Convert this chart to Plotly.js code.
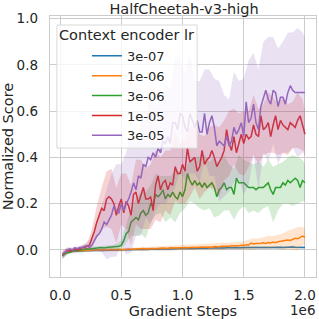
<!DOCTYPE html>
<html><head><meta charset="utf-8">
<script src="https://cdn.plot.ly/plotly-3.0.1.min.js"></script>
<style>html,body{margin:0;padding:0;background:#fff}#chart{width:319px;height:319px}</style>
</head><body><div id="chart"></div>
<script>
// Gradient steps (in units of 1e6)
const steps = [0.02,0.04,0.06,0.08,0.10,0.12,0.14,0.16,0.18,0.20,
0.22,0.24,0.26,0.28,0.30,0.32,0.34,0.36,0.38,0.40,
0.42,0.44,0.46,0.48,0.50,0.52,0.54,0.56,0.58,0.60,
0.62,0.64,0.66,0.68,0.70,0.72,0.74,0.76,0.78,0.80,
0.82,0.84,0.86,0.88,0.90,0.92,0.94,0.96,0.98,1.00,
1.02,1.04,1.06,1.08,1.10,1.12,1.14,1.16,1.18,1.20,
1.22,1.24,1.26,1.28,1.30,1.32,1.34,1.36,1.38,1.40,
1.42,1.44,1.46,1.48,1.50,1.52,1.54,1.56,1.58,1.60,
1.62,1.64,1.66,1.68,1.70,1.72,1.74,1.76,1.78,1.80,
1.82,1.84,1.86,1.88,1.90,1.92,1.94,1.96,1.98,2.00];

const legendTitle = "Context encoder lr";
const labels = ["3e-07","1e-06","3e-06","1e-05","3e-05"];
const colors = ["#1f77b4","#ff7f0e","#2ca02c","#d62728","#9467bd"];
const fills = ["rgba(31,119,180,0.2)","rgba(255,127,14,0.2)","rgba(44,160,44,0.2)","rgba(214,39,40,0.2)","rgba(148,103,189,0.2)"];

const score_3e07 = [-0.025,-0.015,-0.01,-0.008,-0.006,-0.005,-0.006,-0.004,-0.005,-0.004,
-0.003,-0.004,-0.002,-0.003,-0.002,-0.001,-0.002,-0.001,0.000,-0.002,
-0.001,0.000,-0.001,0.001,0.000,0.001,0.000,0.002,0.001,0.002,
0.001,0.002,0.003,0.002,0.003,0.002,0.004,0.003,0.004,0.003,
0.004,0.005,0.004,0.005,0.004,0.006,0.005,0.006,0.005,0.006,
0.006,0.007,0.006,0.007,0.006,0.008,0.007,0.007,0.008,0.007,
0.008,0.007,0.008,0.009,0.008,0.009,0.008,0.009,0.010,0.009,
0.009,0.010,0.009,0.010,0.011,0.010,0.011,0.010,0.011,0.010,
0.011,0.010,0.011,0.012,0.011,0.010,0.011,0.012,0.011,0.012,
0.011,0.012,0.011,0.012,0.013,0.012,0.011,0.012,0.012,0.011];

const score_1e06 = [-0.025,-0.012,-0.01,-0.008,-0.005,-0.006,-0.003,-0.004,-0.002,-0.003,
-0.001,-0.002,0.000,-0.001,0.001,0.000,0.001,-0.001,0.002,0.001,
0.002,0.001,0.003,0.002,0.001,0.003,0.002,0.004,0.003,0.004,
0.003,0.005,0.004,0.006,0.004,0.005,0.007,0.006,0.005,0.007,
0.006,0.008,0.007,0.006,0.009,0.008,0.010,0.008,0.009,0.011,
0.010,0.009,0.011,0.012,0.010,0.012,0.011,0.013,0.012,0.014,
0.013,0.012,0.015,0.014,0.013,0.016,0.015,0.017,0.016,0.018,
0.017,0.019,0.018,0.020,0.019,0.022,0.021,0.030,0.026,0.028,
0.027,0.029,0.031,0.028,0.032,0.030,0.034,0.031,0.035,0.037,
0.036,0.040,0.043,0.041,0.046,0.050,0.048,0.055,0.060,0.055];

const score_3e06 = [-0.025,-0.015,-0.012,-0.008,-0.006,-0.004,-0.002,0.000,0.002,0.003,
0.005,0.004,0.006,0.008,0.007,0.009,0.010,0.008,0.011,0.012,
0.010,0.013,0.015,0.016,0.020,0.040,0.070,0.080,0.120,0.130,
0.140,0.130,0.160,0.170,0.150,0.160,0.200,0.190,0.240,0.230,
0.240,0.260,0.220,0.240,0.230,0.250,0.230,0.220,0.250,0.230,
0.260,0.330,0.300,0.280,0.300,0.280,0.290,0.270,0.290,0.270,
0.280,0.290,0.270,0.230,0.260,0.270,0.290,0.260,0.270,0.270,
0.240,0.310,0.290,0.290,0.290,0.280,0.270,0.270,0.270,0.260,
0.270,0.270,0.270,0.280,0.290,0.260,0.240,0.270,0.270,0.270,
0.290,0.280,0.300,0.290,0.300,0.310,0.300,0.270,0.300,0.290];

const score_1e05 = [-0.020,-0.010,0.000,-0.005,0.000,0.005,0.000,0.005,0.010,0.010,
0.015,0.020,0.050,0.080,0.120,0.150,0.180,0.170,0.220,0.230,
0.220,0.200,0.150,0.190,0.220,0.160,0.210,0.190,0.150,0.240,
0.250,0.200,0.240,0.270,0.220,0.220,0.230,0.170,0.280,0.320,
0.260,0.290,0.300,0.260,0.290,0.280,0.360,0.330,0.330,0.370,
0.340,0.440,0.380,0.390,0.400,0.340,0.360,0.430,0.370,0.390,
0.400,0.430,0.400,0.360,0.380,0.400,0.430,0.520,0.460,0.430,
0.490,0.420,0.460,0.500,0.460,0.500,0.480,0.490,0.540,0.500,
0.490,0.580,0.520,0.530,0.550,0.490,0.540,0.580,0.520,0.560,
0.540,0.530,0.520,0.550,0.540,0.530,0.560,0.580,0.540,0.500];

const score_3e05 = [-0.020,-0.010,0.000,0.005,0.000,0.010,0.005,0.010,0.010,0.015,
0.020,0.010,0.020,0.040,0.060,0.070,0.090,0.120,0.110,0.130,
0.150,0.190,0.170,0.160,0.200,0.170,0.200,0.220,0.250,0.290,
0.260,0.320,0.310,0.370,0.360,0.400,0.390,0.420,0.400,0.440,
0.420,0.470,0.460,0.490,0.460,0.550,0.550,0.520,0.590,0.580,
0.530,0.510,0.590,0.560,0.530,0.560,0.510,0.510,0.590,0.500,
0.550,0.580,0.530,0.450,0.470,0.460,0.450,0.490,0.450,0.470,
0.530,0.500,0.520,0.550,0.490,0.640,0.550,0.570,0.630,0.550,
0.520,0.620,0.660,0.690,0.650,0.630,0.690,0.680,0.620,0.660,
0.660,0.630,0.680,0.710,0.690,0.680,0.680,0.680,0.680,0.680];

// Band x positions (subset of steps) and half-widths of the shaded spread
const bandSteps = [0.02,0.06,0.10,0.14,0.18,0.22,0.26,0.30,0.34,0.38,
0.42,0.46,0.50,0.54,0.58,0.62,0.66,0.70,0.74,0.78,
0.82,0.86,0.90,0.94,0.98,1.02,1.06,1.10,1.14,1.18,
1.22,1.26,1.30,1.34,1.38,1.42,1.46,1.50,1.54,1.58,
1.62,1.66,1.70,1.74,1.78,1.82,1.86,1.90,1.94,1.98,2.00];

const spread_3e07 = [0.015,0.010,0.008,0.006,0.006,0.006,0.005,0.006,0.005,0.005,
0.005,0.006,0.005,0.005,0.006,0.005,0.005,0.006,0.005,0.005,
0.006,0.005,0.005,0.006,0.005,0.005,0.006,0.005,0.005,0.006,
0.005,0.005,0.006,0.005,0.005,0.006,0.005,0.005,0.006,0.005,
0.005,0.006,0.005,0.005,0.006,0.005,0.005,0.006,0.005,0.005,0.005];

const spread_1e06 = [0.012,0.008,0.006,0.005,0.005,0.005,0.006,0.006,0.007,0.006,
0.006,0.007,0.007,0.008,0.007,0.008,0.008,0.009,0.008,0.009,
0.009,0.010,0.010,0.011,0.010,0.011,0.012,0.012,0.013,0.012,
0.013,0.014,0.014,0.015,0.016,0.015,0.016,0.018,0.022,0.025,
0.022,0.025,0.028,0.026,0.030,0.035,0.040,0.045,0.050,0.040,0.035];

const spread_3e06 = [0.012,0.008,0.006,0.006,0.006,0.006,0.008,0.008,0.008,0.008,
0.010,0.012,0.020,0.040,0.060,0.080,0.090,0.100,0.080,0.090,
0.080,0.100,0.090,0.110,0.090,0.080,0.090,0.100,0.110,0.120,
0.100,0.130,0.110,0.120,0.100,0.110,0.120,0.100,0.110,0.100,
0.110,0.090,0.100,0.120,0.100,0.090,0.100,0.110,0.100,0.090,0.080];

const spread_1e05 = [0.015,0.010,0.008,0.008,0.010,0.012,0.040,0.070,0.090,0.120,
0.130,0.120,0.110,0.120,0.130,0.140,0.150,0.130,0.140,0.150,
0.140,0.130,0.140,0.150,0.130,0.140,0.150,0.130,0.140,0.120,
0.130,0.140,0.150,0.130,0.140,0.120,0.130,0.140,0.120,0.130,
0.120,0.110,0.130,0.120,0.110,0.120,0.110,0.100,0.120,0.110,0.100];

const spread_3e05 = [0.015,0.010,0.010,0.010,0.010,0.015,0.030,0.060,0.100,0.150,
0.180,0.200,0.170,0.220,0.260,0.200,0.250,0.220,0.280,0.230,
0.220,0.260,0.230,0.280,0.250,0.230,0.260,0.200,0.220,0.190,
0.230,0.210,0.260,0.220,0.200,0.240,0.210,0.250,0.270,0.220,
0.260,0.240,0.270,0.230,0.250,0.240,0.260,0.250,0.280,0.260,0.240];

const xTickVals = [0, 0.5, 1.0, 1.5, 2.0];
const xTickText = ["0.0","0.5","1.0","1.5","2.0"];
const yTickVals = [0, 0.2, 0.4, 0.6, 0.8, 1.0];
const yTickText = ["0.0","0.2","0.4","0.6","0.8","1.0"];

const means = [score_3e07, score_1e06, score_3e06, score_1e05, score_3e05];
const spreads = [spread_3e07, spread_1e06, spread_3e06, spread_1e05, spread_3e05];

const traces = [];
means.forEach((m, i) => {
  const up = [], lo = [];
  bandSteps.forEach((bx, k) => {
    const idx = steps.indexOf(bx);
    up.push(m[idx] + spreads[i][k]);
    lo.push(m[idx] - spreads[i][k]);
  });
  traces.push({
    x: bandSteps.concat(bandSteps.slice().reverse()),
    y: up.concat(lo.slice().reverse()),
    type: 'scatter', mode: 'lines', fill: 'toself',
    fillcolor: fills[i], line: {width: 0, color: fills[i]},
    showlegend: false, hoverinfo: 'skip'
  });
  traces.push({
    x: steps, y: m, type: 'scatter', mode: 'lines', name: labels[i],
    line: {color: colors[i], width: 1.5}
  });
});

const FAM = 'DejaVu Sans';
const INK = '#262626';
const tickFont = {family: FAM, color: INK, size: 13.5};
const labelFont = {family: FAM, color: INK, size: 14.5};
const layout = {
  width: 319, height: 319,
  margin: {l: 50, r: 3, t: 16, b: 42},
  paper_bgcolor: '#fff', plot_bgcolor: '#fff',
  font: tickFont,
  title: {text: 'HalfCheetah-v3-high', font: {family: FAM, size: 14.5, color: INK},
          x: 0.577, xanchor: 'center', y: 0.972, yanchor: 'middle', yref: 'container'},
  xaxis: {
    range: [-0.082, 2.09], tickvals: xTickVals, ticktext: xTickText,
    tickfont: tickFont,
    showgrid: true, gridcolor: '#cccccc', gridwidth: 1,
    showline: true, linecolor: '#cccccc', linewidth: 1.25, mirror: true,
    zeroline: false, ticks: '', ticklabelstandoff: 6,
    title: {text: 'Gradient Steps', font: labelFont, standoff: 3}
  },
  yaxis: {
    range: [-0.117, 1.011], tickvals: yTickVals, ticktext: yTickText,
    tickfont: tickFont,
    showgrid: true, gridcolor: '#cccccc', gridwidth: 1,
    showline: true, linecolor: '#cccccc', linewidth: 1.25, mirror: true,
    zeroline: false, ticks: '', ticklabelstandoff: 8,
    title: {text: 'Normalized Score', font: labelFont, standoff: 4}
  },
  // legend frame (background box) and legend title; entries come from the plotly legend
  shapes: [{
    type: 'rect', xref: 'paper', yref: 'paper', layer: 'above',
    x0: 0.026, x1: 0.553, y0: 0.494, y1: 0.9655,
    fillcolor: 'rgba(255,255,255,0.8)', line: {color: '#d9d9d9', width: 1}
  }],
  legend: {
    x: 0.139, y: 0.905, xanchor: 'left', yanchor: 'top',
    bgcolor: 'rgba(0,0,0,0)', borderwidth: 0,
    font: {family: FAM, size: 13, color: INK},
    tracegroupgap: 0
  },
  annotations: [{
    text: legendTitle, xref: 'paper', yref: 'paper', x: 0.289, y: 0.927,
    xanchor: 'center', yanchor: 'middle', showarrow: false,
    font: {family: FAM, size: 14.5, color: INK}
  }, {
    text: '1e6', xref: 'paper', yref: 'paper', x: 1.004, y: -0.126,
    xanchor: 'right', yanchor: 'middle', showarrow: false,
    font: {family: FAM, size: 13.5, color: INK}
  }],
  showlegend: true
};
Plotly.newPlot('chart', traces, layout, {displayModeBar: false, staticPlot: true});
</script>
</body></html>
